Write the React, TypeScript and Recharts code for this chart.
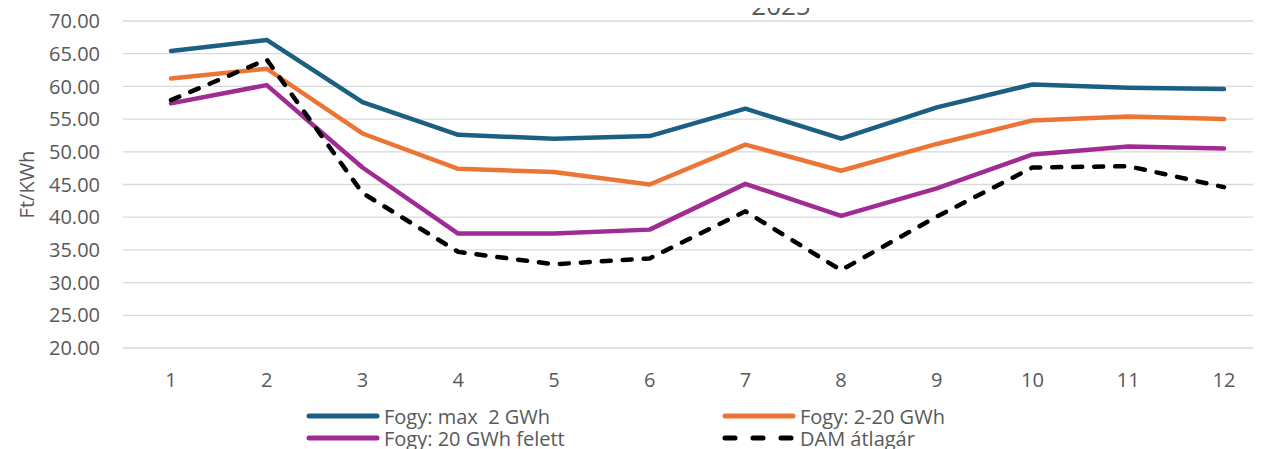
import { CartesianGrid, Line, LineChart, XAxis, YAxis } from 'recharts';

const months = ['1', '2', '3', '4', '5', '6', '7', '8', '9', '10', '11', '12'];
const max2 = [65.4, 67.1, 57.6, 52.6, 52.0, 52.4, 56.6, 52.0, 56.8, 60.3, 59.8, 59.6];
const mid = [61.2, 62.7, 52.8, 47.4, 46.9, 45.0, 51.1, 47.1, 51.2, 54.8, 55.4, 55.0];
const over20 = [57.4, 60.2, 47.6, 37.5, 37.5, 38.1, 45.1, 40.2, 44.4, 49.6, 50.8, 50.5];
const dam = [57.9, 64.1, 43.7, 34.7, 32.8, 33.7, 40.9, 31.9, 40.1, 47.6, 47.8, 44.6];
const yTicks = [20, 25, 30, 35, 40, 45, 50, 55, 60, 65, 70];

const TEXT = '#595959';
const FONT = '"Open Sans", sans-serif';

const series = [
  { key: 'max2', name: 'Fogy: max  2 GWh', color: '#1b5f83', dash: undefined },
  { key: 'mid', name: 'Fogy: 2-20 GWh', color: '#ec7535', dash: undefined },
  { key: 'over20', name: 'Fogy: 20 GWh felett', color: '#a02b93', dash: undefined },
  { key: 'dam', name: 'DAM átlagár', color: '#000000', dash: '9 12' },
];

const data = months.map((m, i) => ({
  month: m,
  max2: max2[i],
  mid: mid[i],
  over20: over20[i],
  dam: dam[i],
}));

// legend placement: two columns, two rows
const legendPos = [
  { left: 306, top: 405 },
  { left: 722, top: 405 },
  { left: 306, top: 427 },
  { left: 722, top: 427 },
];

export default function App() {
  return (
    <div
      style={{
        position: 'relative',
        margin: '-8px 0 0 -8px',
        width: 1261,
        height: 449,
        overflow: 'hidden',
        background: '#fff',
        fontFamily: FONT,
      }}
    >
      <div
        style={{
          position: 'absolute',
          left: 781,
          top: -10,
          transform: 'translateX(-50%)',
          fontSize: 26,
          color: TEXT,
          lineHeight: '30px',
        }}
      >
        2025
      </div>
      <LineChart
        width={1290}
        height={449}
        data={data}
        margin={{ top: 21, right: 18, left: 0, bottom: 0 }}
        style={{ position: 'absolute', left: 0, top: 0 }}
      >
        <CartesianGrid vertical={false} stroke="#d9d9d9" strokeWidth={1.3} />
        <XAxis
          dataKey="month"
          height={101}
          padding={{ left: 48, right: 48 }}
          tickLine={false}
          axisLine={false}
          tickMargin={19}
          interval={0}
          tick={{ fill: TEXT, fontSize: 20, fontFamily: FONT }}
        />
        <YAxis
          width={123}
          domain={[20, 70]}
          ticks={yTicks}
          tickFormatter={(v: number) => v.toFixed(2)}
          tickLine={false}
          axisLine={false}
          tickMargin={17}
          tick={{ fill: TEXT, fontSize: 20, fontFamily: FONT }}
          label={{
            value: 'Ft/KWh',
            angle: -90,
            position: 'insideLeft',
            dx: 22,
            dy: 0,
            style: { fill: TEXT, fontSize: 20, fontFamily: FONT, textAnchor: 'middle' },
          }}
        />
        {series.map((s) => (
          <Line
            key={s.key}
            type="linear"
            dataKey={s.key}
            name={s.name}
            stroke={s.color}
            strokeWidth={4.5}
            strokeDasharray={s.dash}
            strokeLinecap="round"
            strokeLinejoin="round"
            dot={false}
            activeDot={false}
            isAnimationActive={false}
          />
        ))}
      </LineChart>
      {series.map((s, i) => (
        <div
          key={s.key}
          style={{
            position: 'absolute',
            left: legendPos[i].left,
            top: legendPos[i].top,
            height: 22,
            display: 'flex',
            alignItems: 'center',
            fontSize: 20,
            color: TEXT,
            whiteSpace: 'pre',
          }}
        >
          <svg width={74} height={10} style={{ marginRight: 4 }}>
            <line
              x1={3}
              y1={5}
              x2={71}
              y2={5}
              stroke={s.color}
              strokeWidth={5}
              strokeLinecap="round"
              strokeDasharray={s.dash ? '10 18' : undefined}
            />
          </svg>
          {s.name}
        </div>
      ))}
    </div>
  );
}
